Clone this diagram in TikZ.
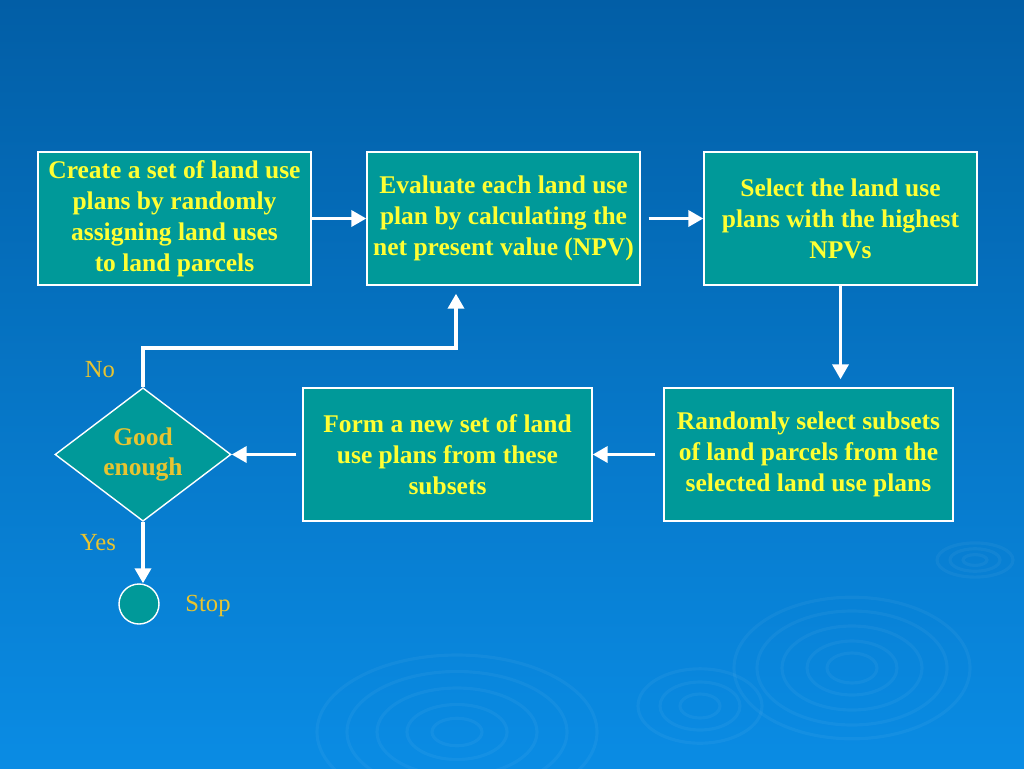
\documentclass[tikz,border=0pt]{standalone}
\usepackage{fontspec}
\setmainfont{Liberation Serif}
\usepackage{xcolor}
\usetikzlibrary{arrows.meta,positioning,shapes.geometric,calc}
\definecolor{boxteal}{RGB}{0,153,153}
\definecolor{txtyellow}{RGB}{255,255,51}
\definecolor{txtgold}{RGB}{232,196,48}
\definecolor{bgtop}{RGB}{2,94,166}
\definecolor{bgbottom}{RGB}{10,140,228}
\tikzset{
	plan/.style={draw=white,line width=0.8pt,fill=boxteal,text=txtyellow,font=\fontsize{14.5}{17.6}\selectfont\bfseries,align=center,minimum width=5.46cm,minimum height=2.66cm,inner sep=0pt},
	flow/.style={-{Triangle[length=0.3cm,width=0.32cm]},white,line width=2pt},
	note/.style={text=txtgold,font=\fontsize{14}{16}\selectfont},
	ripple/.style={white,opacity=0.045,line width=1.8pt}
}
\begin{document}
\begin{tikzpicture}[x=0.02cm,y=-0.02cm]
	\shade[top color=bgtop,bottom color=bgbottom] (0,0) rectangle (1024,768);
	\useasboundingbox (0,0) rectangle (1024,768);
	\foreach \r in {12,25,38} \draw[ripple] (975,560) ellipse [x radius=\r,y radius=0.45*\r];
	\foreach \r in {25,45,70,95,118} \draw[ripple] (852,668) ellipse [x radius=\r,y radius=0.6*\r];
	\foreach \r in {20,40,62} \draw[ripple] (700,706) ellipse [x radius=\r,y radius=0.6*\r];
	\foreach \r in {25,50,80,110,140} \draw[ripple] (457,732) ellipse [x radius=\r,y radius=0.55*\r];
	\node[plan] (create) at (174.5,218.5) {Create a set of land use\\plans by randomly\\assigning land uses\\to land parcels};
	\node[plan] (evaluate) at (503.5,218.5) {Evaluate each land use\\plan by calculating the\\net present value (NPV)};
	\node[plan] (select) at (840.5,218.5) {Select the land use\\plans with the highest\\NPVs};
	\node[plan,minimum width=5.78cm] (subsets) at (808.5,454.5) {Randomly select subsets\\of land parcels from the\\selected land use plans};
	\node[plan,minimum width=5.78cm] (form) at (447.5,454.5) {Form a new set of land\\use plans from these\\subsets};
	\node[plan,diamond,text=txtgold,minimum width=3.52cm,minimum height=2.66cm] (good) at (143,454.5) {Good\\enough};
	\node[circle,draw=white,line width=0.8pt,fill=boxteal,minimum size=0.8cm,inner sep=0pt] (stop) at (139,604) {};
	\node[note] (nolbl) at (100,370) {No};
	\node[note] (yeslbl) at (98,543) {Yes};
	\node[note] (stoplbl) at (208,606) {Stop};
	\coordinate (back) at (456,348);
	\draw[flow] (create.east) -- (evaluate.west);
	\draw[flow,shorten <=0.16cm] (evaluate.east) -- (select.west);
	\draw[flow,shorten >=0.16cm] (select.south) -- (select.south |- subsets.north);
	\draw[flow,shorten <=0.16cm] (subsets.west) -- (form.east);
	\draw[flow,shorten <=0.12cm] (form.west) -- (good.east);
	\draw[flow] (good.south) -- (good.south |- stop.north);
	\draw[flow,shorten >=0.16cm] (good.north) |- (back) -- (back |- evaluate.south);
\end{tikzpicture}
\end{document}
